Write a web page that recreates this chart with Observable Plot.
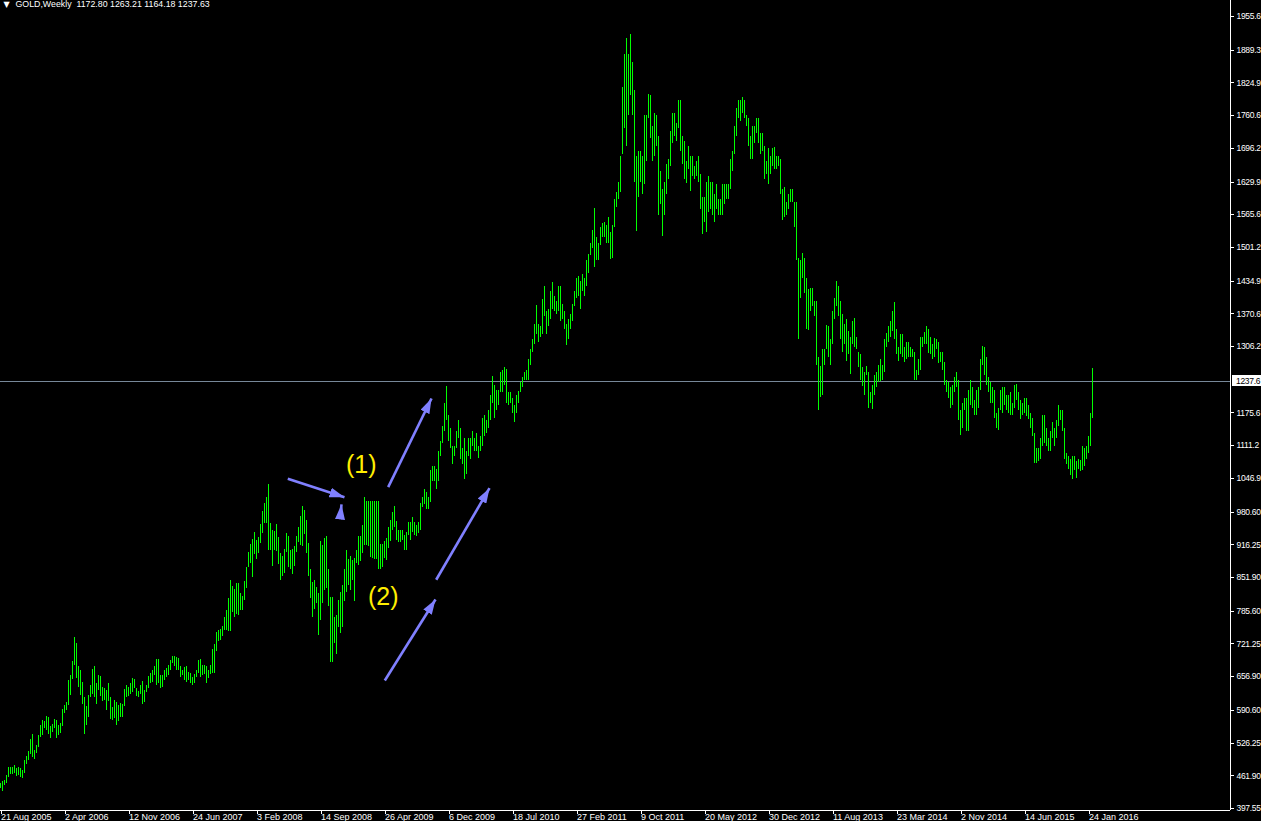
<!DOCTYPE html>
<html><head><meta charset="utf-8">
<script src="https://cdn.jsdelivr.net/npm/d3@7"></script>
<script src="https://cdn.jsdelivr.net/npm/@observablehq/plot@0.6"></script>
<style>
html,body{margin:0;padding:0;background:#000;overflow:hidden;}
#chart svg{display:block;}
#chart g[aria-label="y-axis tick label"] text{letter-spacing:-0.3px;}
</style>
</head><body><div id="chart"></div>
<script>
// ---- data ----
const symbolName = "GOLD";
const periodName = "Weekly";
const lastOHLC = [1172.80, 1263.21, 1164.18, 1237.63];

const xTickBars = [0,32,64,96,128,160,192,224,256,288,320,352,384,416,448,480,512,544];
const xTickLabels = ["21 Aug 2005","2 Apr 2006","12 Nov 2006","24 Jun 2007","3 Feb 2008","14 Sep 2008","26 Apr 2009","6 Dec 2009","18 Jul 2010","27 Feb 2011","9 Oct 2011","20 May 2012","30 Dec 2012","11 Aug 2013","23 Mar 2014","2 Nov 2014","14 Jun 2015","24 Jan 2016"];

const yTickValues = [1955.6,1889.3,1824.9,1760.6,1696.2,1629.9,1565.6,1501.2,1434.9,1370.6,1306.2,1175.6,1111.2,1046.9,980.60,916.25,851.90,785.60,721.25,656.90,590.60,526.25,461.90,397.55];
const yTickLabels = ["1955.6","1889.3","1824.9","1760.6","1696.2","1629.9","1565.6","1501.2","1434.9","1370.6","1306.2","1175.6","1111.2","1046.9","980.60","916.25","851.90","785.60","721.25","656.90","590.60","526.25","461.90","397.55"];

const highs = [
446,451,453,462,479,479,479,482,477,479,
477,472,492,500,510,533,543,512,521,542,
561,571,569,579,577,558,563,573,571,561,
564,592,600,607,649,659,687,734,723,677,
669,646,615,598,620,640,671,677,643,659,
657,636,633,630,644,615,596,610,607,600,
604,602,632,640,636,644,653,651,633,628,
640,647,630,640,657,664,670,676,691,691,
659,659,669,672,679,689,697,697,694,692,
677,669,674,676,666,663,656,661,670,689,
691,679,679,676,670,678,710,720,743,748,
750,756,774,788,811,847,834,828,840,840,
820,815,844,871,902,917,926,941,925,931,
956,981,997,1009,1035,958,945,943,956,931,
900,893,908,938,933,905,908,912,933,950,
971,992,983,964,918,867,843,847,833,820,
923,915,928,933,867,813,813,774,777,806,
823,836,867,905,887,893,886,889,905,933,
933,954,1009,1002,1002,1002,1002,1002,1002,1002,
917,917,922,928,951,964,980,992,962,945,
945,945,935,940,960,960,970,960,955,960,
998,1010,1025,1020,1010,1062,1070,1070,1064,1100,
1120,1150,1195,1227,1170,1145,1110,1110,1140,1160,
1145,1105,1125,1100,1125,1125,1140,1125,1135,1110,
1130,1165,1170,1160,1180,1210,1248,1230,1220,1220,
1255,1260,1266,1262,1215,1215,1205,1190,1210,1218,
1235,1245,1255,1260,1280,1300,1320,1350,1388,1350,
1345,1398,1424,1375,1380,1415,1432,1405,1395,1425,
1425,1390,1375,1350,1360,1370,1390,1415,1440,1445,
1435,1448,1440,1475,1488,1510,1535,1577,1520,1510,
1540,1548,1550,1545,1560,1530,1545,1595,1610,1630,
1680,1815,1880,1913,1880,1921,1865,1810,1680,1690,
1690,1680,1760,1760,1803,1800,1740,1765,1760,1720,
1650,1615,1630,1665,1675,1730,1765,1765,1745,1790,
1791,1720,1710,1670,1700,1680,1680,1660,1670,1680,
1645,1600,1600,1630,1640,1630,1630,1605,1625,1595,
1595,1625,1625,1625,1625,1675,1690,1740,1775,1790,
1790,1796,1790,1760,1755,1720,1740,1740,1755,1755,
1725,1725,1700,1670,1695,1680,1695,1697,1680,1680,
1675,1615,1620,1590,1605,1615,1615,1590,1590,1480,
1475,1490,1480,1440,1418,1420,1420,1395,1395,1285,
1268,1300,1300,1348,1345,1320,1375,1400,1434,1425,
1395,1370,1350,1360,1335,1325,1355,1362,1325,1295,
1290,1265,1255,1267,1255,1215,1230,1250,1255,1270,
1280,1270,1320,1332,1345,1355,1375,1392,1340,1305,
1330,1331,1305,1315,1315,1305,1300,1295,1260,1280,
1325,1325,1333,1345,1340,1325,1310,1322,1320,1315,
1295,1295,1275,1240,1235,1225,1230,1245,1255,1240,
1180,1195,1205,1205,1220,1240,1225,1200,1220,1225,
1280,1307,1305,1285,1245,1235,1225,1220,1175,1185,
1220,1225,1225,1210,1210,1215,1195,1230,1232,1215,
1200,1195,1205,1205,1190,1175,1165,1135,1105,1105,
1125,1170,1170,1145,1125,1140,1157,1145,1160,1191,
1180,1180,1145,1095,1090,1085,1090,1090,1080,1085,
1082,1110,1105,1110,1130,1175,1263.21
];

const lows = [
436,430,443,446,459,464,464,467,460,462,
458,457,467,485,492,504,497,493,505,518,
537,541,554,550,544,536,547,554,536,542,
546,559,584,590,600,620,651,678,653,636,
620,602,544,561,577,615,622,615,603,630,
618,608,610,590,609,572,571,574,561,569,
577,577,598,615,618,622,625,633,617,615,
622,602,607,625,633,643,646,659,640,643,
634,636,649,655,659,670,682,676,669,670,
656,659,649,646,649,643,640,643,655,663,
656,659,661,644,654,661,663,663,707,727,
728,735,748,748,746,746,784,774,779,777,
787,788,807,830,871,880,851,897,887,900,
918,938,958,959,905,906,874,905,904,878,
847,854,859,902,872,867,858,874,902,920,
915,913,937,899,853,810,774,790,800,738,
767,800,826,830,794,684,684,722,701,754,
741,754,804,823,836,826,846,804,880,876,
884,899,915,915,912,891,889,887,887,867,
867,872,889,886,910,922,945,950,925,920,
920,925,905,905,935,925,940,935,932,938,
945,990,995,985,985,1000,1040,1040,1025,1040,
1090,1115,1140,1160,1120,1105,1075,1090,1105,1125,
1085,1075,1045,1055,1090,1085,1110,1100,1100,1087,
1100,1110,1130,1135,1145,1160,1195,1165,1180,1190,
1215,1215,1230,1195,1190,1195,1175,1157,1175,1195,
1215,1225,1240,1240,1240,1270,1295,1310,1330,1315,
1325,1330,1365,1330,1345,1360,1380,1375,1370,1375,
1355,1360,1340,1309,1320,1340,1355,1385,1400,1405,
1380,1415,1405,1425,1450,1485,1500,1462,1475,1475,
1505,1520,1520,1510,1510,1478,1480,1540,1580,1595,
1610,1685,1735,1700,1760,1800,1760,1630,1532,1600,
1630,1605,1625,1670,1755,1715,1670,1680,1700,1565,
1585,1523,1565,1605,1635,1660,1705,1720,1710,1735,
1690,1665,1635,1627,1655,1612,1640,1635,1640,1630,
1575,1527,1550,1530,1570,1575,1565,1550,1575,1565,
1565,1565,1585,1595,1595,1615,1650,1685,1720,1755,
1750,1765,1755,1740,1700,1675,1675,1705,1725,1705,
1685,1690,1635,1645,1625,1645,1660,1655,1655,1660,
1605,1555,1560,1565,1575,1590,1590,1540,1475,1321,
1400,1440,1410,1340,1337,1375,1385,1365,1270,1180,
1207,1210,1270,1300,1285,1270,1310,1360,1385,1365,
1320,1295,1310,1277,1290,1251,1310,1305,1300,1265,
1240,1227,1210,1250,1185,1195,1182,1210,1225,1235,
1238,1240,1255,1305,1315,1325,1335,1320,1290,1277,
1290,1285,1275,1280,1285,1285,1285,1240,1240,1250,
1260,1305,1310,1310,1292,1290,1280,1285,1300,1272,
1275,1260,1230,1215,1205,1185,1190,1215,1225,1160,
1131,1145,1180,1140,1140,1190,1185,1170,1170,1185,
1220,1270,1250,1230,1215,1195,1195,1165,1145,1142,
1180,1175,1190,1180,1175,1170,1170,1185,1200,1180,
1162,1170,1175,1168,1162,1145,1130,1077,1077,1080,
1085,1110,1115,1110,1100,1100,1125,1110,1125,1150,
1160,1140,1085,1075,1065,1052,1045,1062,1046,1065,
1060,1062,1070,1085,1095,1110,1164.18
];

// annotation arrows (bar index, price)
const arrowX1 = [143.4, 193.6, 217.6, 191.9, 169.5];
const arrowY1 = [1046.2, 1029.7, 847.5, 649.4, 966.1];
const arrowX2 = [171.75, 215.25, 244.25, 217.25, 170.25];
const arrowY2 = [1010.0, 1204.2, 1027.7, 808.7, 995.6];
const noteX = [180.1, 191.1];
const noteY = [1072.4, 813.3];
const noteText = ["(1)", "(2)"];

// ---- build ----
const BAR_COLOR = "#00ff00";
const bars = highs.map((h, i) => ({i, high: h, low: lows[i]}));
const arrows = arrowX1.map((x, k) => ({x1: x, y1: arrowY1[k], x2: arrowX2[k], y2: arrowY2[k]}));
const notes = noteX.map((x, k) => ({x, y: noteY[k], text: noteText[k]}));
const xLabelMap = new Map(xTickBars.map((b, k) => [b, xTickLabels[k]]));
const yLabelMap = new Map(yTickValues.map((v, k) => [v, yTickLabels[k]]));
const xMax = 615, yMin = 393.6, yMax = 1987.1;
const lastClose = lastOHLC[3];
const titleText = `${symbolName},${periodName}  ${lastOHLC.map(v => v.toFixed(2)).join(" ")}`;
const FONT = "'Liberation Sans', Arial, sans-serif";

const chart = Plot.plot({
  width: 1261, height: 821,
  marginLeft: 0, marginRight: 31, marginTop: 0, marginBottom: 11,
  style: {background: "#000", color: "#fff", fontFamily: FONT, fontSize: "9px"},
  x: {type: "linear", domain: [0, xMax], range: [0.5, 1230.5], axis: null},
  y: {type: "linear", domain: [yMin, yMax], range: [810, 0], axis: null},
  marks: [
    Plot.ruleY([lastClose], {stroke: "#778899", strokeWidth: 1, shapeRendering: "crispEdges"}),
    // each weekly bar: a 1px column from low to high
    Plot.rect(bars, {x1: d => d.i - 0.25, x2: d => d.i + 0.25, y1: "low", y2: "high", fill: BAR_COLOR, shapeRendering: "crispEdges"}),
    Plot.ruleX([xMax - 0.25], {stroke: "#fff", shapeRendering: "crispEdges"}),
    Plot.ruleY([yMin], {stroke: "#fff", shapeRendering: "crispEdges"}),
    Plot.axisY(yTickValues, {anchor: "right", tickSize: 3, tickPadding: 3, tickFormat: d => yLabelMap.get(d), fontSize: 8.5, shapeRendering: "crispEdges"}),
    Plot.axisX(xTickBars, {anchor: "bottom", tickSize: 4, tickPadding: -1, tickFormat: d => xLabelMap.get(d), textAnchor: "start", fontSize: 9, shapeRendering: "crispEdges"}),
    Plot.link(arrows, {x1: "x1", y1: "y1", x2: "x2", y2: "y2", stroke: "#8080ff", strokeWidth: 2.6, className: "anno-arrow"}),
    Plot.text(notes, {x: "x", y: "y", text: "text", fill: "#ffee00", fontSize: 25, textAnchor: "middle", lineAnchor: "middle", fontFamily: FONT}),
    Plot.text([titleText], {frameAnchor: "top-left", dx: 15, dy: 6.5, lineAnchor: "bottom", textAnchor: "start", text: d => d, fill: "#fff", fontSize: 8.8}),
    Plot.text(["\u25BC"], {frameAnchor: "top-left", dx: 3, dy: 6, lineAnchor: "bottom", textAnchor: "start", text: d => d, fill: "#fff", fontSize: 8, fontFamily: "'DejaVu Sans', sans-serif"})
  ]
});
document.getElementById("chart").appendChild(chart);

// ---- post: filled arrowheads, price label box ----
const svg = chart.tagName.toLowerCase() === "svg" ? chart : chart.querySelector("svg");
const ns = "http://www.w3.org/2000/svg";

const defs = document.createElementNS(ns, "defs");
const marker = document.createElementNS(ns, "marker");
marker.setAttribute("id", "tri");
marker.setAttribute("viewBox", "0 0 15 10");
marker.setAttribute("refX", "15");
marker.setAttribute("refY", "5");
marker.setAttribute("markerWidth", "15");
marker.setAttribute("markerHeight", "10");
marker.setAttribute("markerUnits", "userSpaceOnUse");
marker.setAttribute("orient", "auto");
const mp = document.createElementNS(ns, "path");
mp.setAttribute("d", "M0,0L15,5L0,10Z");
mp.setAttribute("fill", "#8080ff");
marker.appendChild(mp);
defs.appendChild(marker);
svg.insertBefore(defs, svg.firstChild);
let arrowPaths = svg.querySelectorAll(".anno-arrow path");
if (!arrowPaths.length) arrowPaths = svg.querySelectorAll('g[stroke="#8080ff"] path');
arrowPaths.forEach(p => p.setAttribute("marker-end", "url(#tri)"));

// current price label on the right axis, placed with the plot's own y scale
const yPos = chart.scale("y").apply(lastClose);
const gLab = document.createElementNS(ns, "g");
const r = document.createElementNS(ns, "rect");
r.setAttribute("x", 1232);
r.setAttribute("y", Math.round(yPos) - 6);
r.setAttribute("width", 40);
r.setAttribute("height", 11);
r.setAttribute("fill", "#fff");
const t = document.createElementNS(ns, "text");
t.setAttribute("x", 1236);
t.setAttribute("y", Math.round(yPos) + 3);
t.setAttribute("fill", "#000");
t.setAttribute("text-anchor", "start");
t.setAttribute("font-size", "8.5");
t.setAttribute("letter-spacing", "-0.3");
t.setAttribute("font-family", FONT);
t.textContent = lastClose.toFixed(1);
gLab.appendChild(r);
gLab.appendChild(t);
svg.appendChild(gLab);
</script>
</body></html>
